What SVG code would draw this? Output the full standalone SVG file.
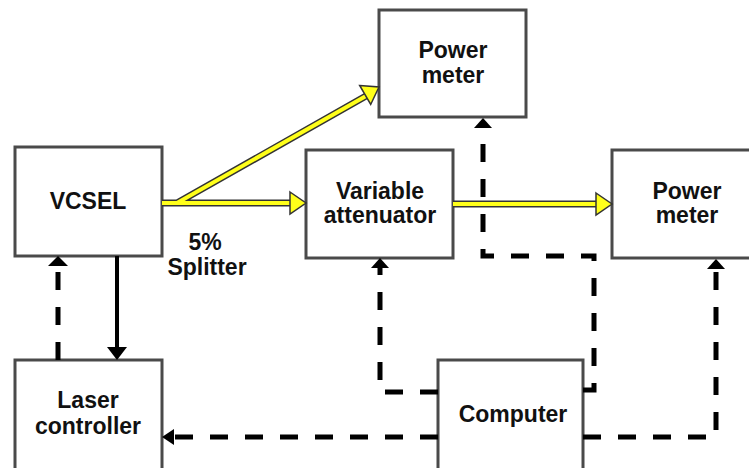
<svg xmlns="http://www.w3.org/2000/svg" width="749" height="468" viewBox="0 0 749 468">
<style>
.box{fill:#fff;stroke:#4a4a4a;stroke-width:3}
.t{font-family:"Liberation Sans",Arial,sans-serif;font-weight:bold;font-size:23px;fill:#111;text-anchor:middle}
.dash{fill:none;stroke:#000;stroke-width:5;stroke-dasharray:18 17}
.solid{fill:none;stroke:#000;stroke-width:4}
.yo{fill:none;stroke:#333;stroke-width:7}
.yi{fill:none;stroke:#ffff1a;stroke-width:4}
.yh{fill:#ffff1a;stroke:#333;stroke-width:1.5;stroke-linejoin:miter}
.bh{fill:#000}
</style>
<rect width="749" height="468" fill="#fff"/>
<g id="vcsel"><rect class="box" x="15" y="147" width="147" height="109"/><text class="t" x="88" y="209">VCSEL</text></g>
<g id="power-meter-top"><rect class="box" x="379" y="10" width="147" height="107"/><text class="t" x="453" y="58">Power</text><text class="t" x="453" y="83">meter</text></g>
<g id="attenuator"><rect class="box" x="306" y="150" width="147" height="108"/><text class="t" x="380" y="199">Variable</text><text class="t" x="380" y="223">attenuator</text></g>
<g id="power-meter-right"><rect class="box" x="612" y="150" width="160" height="108"/><text class="t" x="687" y="199">Power</text><text class="t" x="687" y="223">meter</text></g>
<g id="laser-controller"><rect class="box" x="15" y="360" width="147" height="120"/><text class="t" x="88" y="408">Laser</text><text class="t" x="88" y="434">controller</text></g>
<g id="computer"><rect class="box" x="438" y="360" width="145" height="120"/><text class="t" x="513" y="422">Computer</text></g>
<g id="splitter-label"><text class="t" x="205" y="250">5%</text><text class="t" x="207" y="275">Splitter</text></g>
<g id="connectors">
<path class="yo" d="M162,203 H292 M177,203 L366,96 M453,204 H598"/>
<path class="yi" d="M162,203 H292 M177,203 L366,96 M453,204 H598"/>
<polygon class="yh" points="290,192 306,203 290,214"/>
<polygon class="yh" points="596,193 612,204 596,215"/>
<polygon class="yh" points="359.7,85.5 379,87 370.7,104.5"/>
<path class="solid" d="M117,256 V348"/>
<polygon class="bh" points="107,347 117,360 127,347"/>
<path class="dash" d="M58,360 V266"/>
<polygon class="bh" points="48,266 58,256 68,266"/>
<path class="dash" d="M438,437 H173"/>
<polygon class="bh" points="174,429 162,437 174,445"/>
<path class="dash" d="M438,392 H380 V268"/>
<polygon class="bh" points="371,268 380,258 389,268"/>
<path class="dash" d="M583,390 H594 V256 H483 V128"/>
<polygon class="bh" points="474,128 483,118 492,128"/>
<path class="dash" d="M583,437 H716 V269"/>
<polygon class="bh" points="707,269 716,259 725,269"/>
</g>
</svg>
